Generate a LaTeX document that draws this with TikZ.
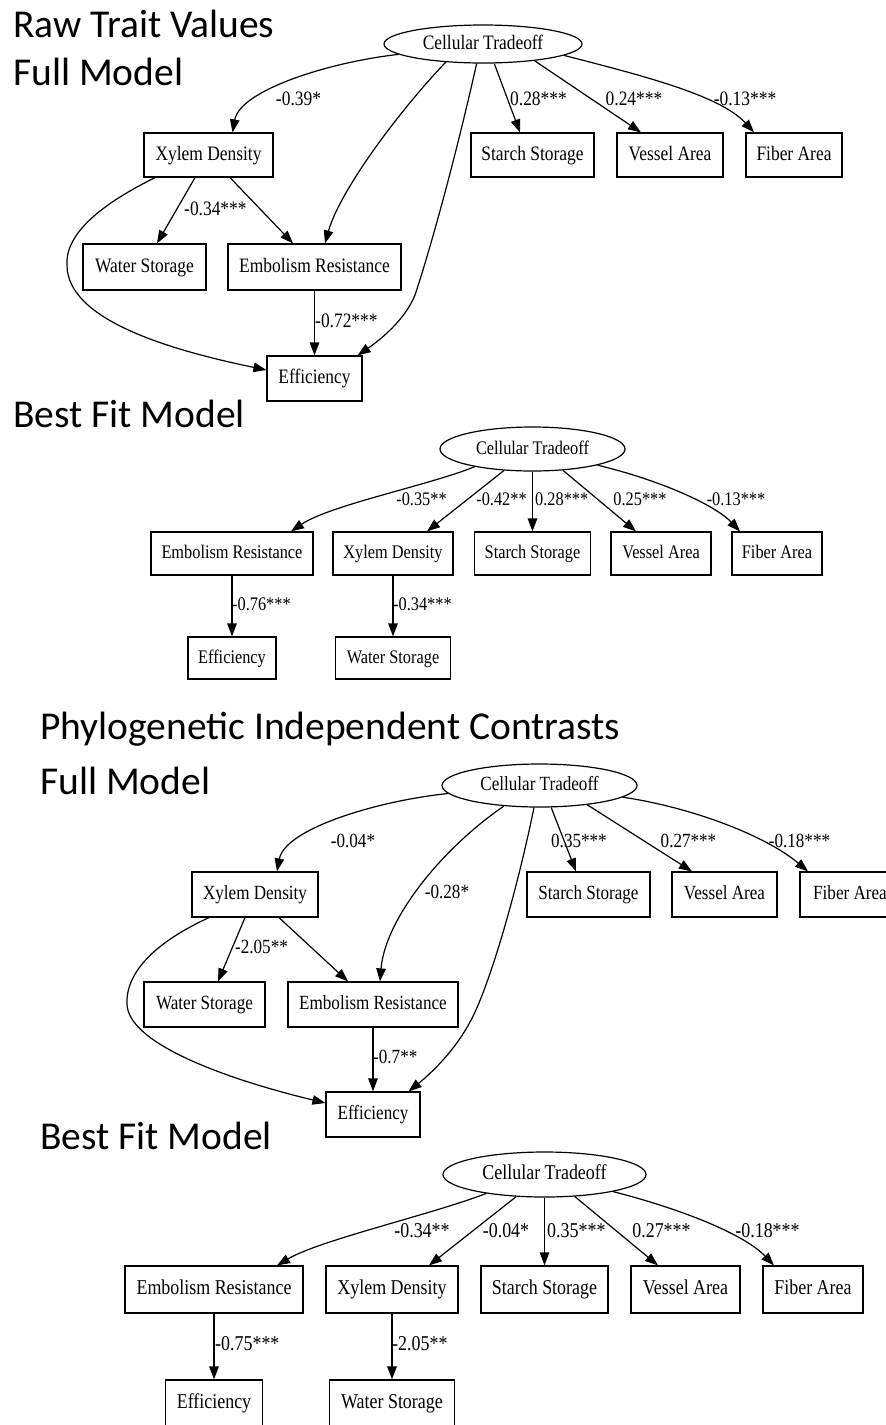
\documentclass[tikz,border=0pt]{standalone}
\usepackage{fontspec}
\setmainfont{Liberation Serif}
\newfontfamily\nodefont[FakeStretch=0.85]{Liberation Serif}
\newfontfamily\titlefont{Carlito}
\usetikzlibrary{shapes.geometric,arrows.meta}
\tikzset{
  box/.style={draw, rectangle, line width=1.2pt, inner sep=0pt, minimum height=44pt},
  ell/.style={draw, ellipse, line width=1.2pt, inner sep=0pt},
  arr/.style={line width=1.2pt, -{Triangle[length=13pt,width=9.5pt]}},
  lab/.style={inner sep=0pt},
  ttl/.style={anchor=base west, inner sep=0pt, font=\titlefont\fontsize{39.5}{42}\selectfont},
  txt/.style={text height=14pt, text depth=4pt},
  pone/.style={every node/.append style={txt, font=\nodefont\fontsize{20.5}{22}\selectfont}},
  ptwo/.style={every node/.append style={txt, font=\nodefont\fontsize{19.2}{21}\selectfont}},
  pthree/.style={every node/.append style={txt, font=\nodefont\fontsize{20.1}{22}\selectfont}},
  pfour/.style={every node/.append style={txt, font=\nodefont\fontsize{21.1}{23}\selectfont}},
}
\begin{document}
\begin{tikzpicture}[x=1pt,y=-1pt]
\fill[white] (0,0) rectangle (886,1425);
\useasboundingbox (0,0) rectangle (886,1425);

% titles
\node[ttl] (t1) at (13,37) {Raw Trait Values};
\node[ttl] (t2) at (13,85) {Full Model};
\node[ttl] (t3) at (13,427) {Best Fit Model};
\node[ttl] (t4) at (40,739) {Phylogenetic Independent Contrasts};
\node[ttl] (t5) at (40,794) {Full Model};
\node[ttl] (t6) at (40,1149) {Best Fit Model};

% ---------- Panel 1 ----------
\begin{scope}[pone]
\node[ell, minimum width=198pt, minimum height=38pt] (ct1) at (483,44) {Cellular Tradeoff};
\node[box, minimum width=129pt] (xd1) at (208.5,155) {Xylem Density};
\node[box, minimum width=123pt] (ss1) at (532.5,155) {Starch Storage};
\node[box, minimum width=106pt] (va1) at (670,155) {Vessel Area};
\node[box, minimum width=96pt] (fa1) at (794,155) {Fiber Area};
\node[box, minimum width=123pt, minimum height=46pt] (ws1) at (144.5,267) {Water Storage};
\node[box, minimum width=173pt, minimum height=46pt] (er1) at (314.5,267) {Embolism Resistance};
\node[box, minimum width=95pt, minimum height=45pt] (ef1) at (314.5,378.5) {Efficiency};

\draw[arr] (ct1.187) .. controls (330,62) and (240,90) .. ([xshift=24pt]xd1.north);
\node[lab] (l1a) at (298.5,100) {-0.39*};
\draw[arr] (ct1.300) -- ([xshift=-12.5pt]ss1.north);
\node[lab, anchor=west] (l1b) at (510,100) {0.28***};
\draw[arr] (ct1.342) -- ([xshift=-29pt]va1.north);
\node[lab] (l1c) at (634,100) {0.24***};
\draw[arr] (ct1.352) .. controls (640,75) and (720,95) .. ([xshift=-40pt]fa1.north);
\node[lab] (l1d) at (745,100) {-0.13***};
\draw[arr] ([xshift=-13.5pt]xd1.south) -- ([xshift=12.5pt]ws1.north);
\node[lab, anchor=west] (l1e) at (184,210) {-0.34***};
\draw[arr] ([xshift=21.5pt]xd1.south) -- ([xshift=-21.5pt]er1.north);
\draw[arr] ([xshift=-53.5pt]xd1.south) .. controls (110,200) and (65,230) .. (67,265) .. controls (67,320) and (170,350) .. ([yshift=8.5pt]ef1.west);
\draw[arr] (er1) -- (ef1);
\node[lab, anchor=west] (l1f) at (315,322) {-0.72***};
\draw[arr] (ct1.206) .. controls (400,110) and (340,190) .. ([xshift=10.5pt]er1.north);
\draw[arr] (ct1.252) .. controls (455,160) and (430,250) .. (415,295) .. controls (405,320) and (380,340) .. ([xshift=-5pt]ef1.north east);
\end{scope}

% ---------- Panel 2 ----------
\begin{scope}[ptwo]
\node[ell, minimum width=185pt, minimum height=44pt] (ct2) at (532.5,449) {Cellular Tradeoff};
\node[box, minimum width=162pt, minimum height=43pt] (er2) at (232,553.5) {Embolism Resistance};
\node[box, minimum width=120pt, minimum height=43pt] (xd2) at (393,553.5) {Xylem Density};
\node[box, minimum width=116pt, minimum height=43pt] (ss2) at (532.5,553.5) {Starch Storage};
\node[box, minimum width=100pt, minimum height=43pt] (va2) at (661,553.5) {Vessel Area};
\node[box, minimum width=90pt, minimum height=43pt] (fa2) at (777,553.5) {Fiber Area};
\node[box, minimum width=88pt, minimum height=42pt] (ef2) at (232,658) {Efficiency};
\node[box, minimum width=115pt, minimum height=42pt] (ws2) at (393,658) {Water Storage};

\draw[arr] (ct2.197) .. controls (430,485) and (330,505) .. ([xshift=59pt]er2.north);
\node[lab] (l2a) at (421.5,500) {-0.35**};
\draw[arr] (ct2.217) -- ([xshift=34pt]xd2.north);
\node[lab] (l2b) at (501.5,500) {-0.42**};
\draw[arr] (ct2) -- (ss2);
\node[lab, anchor=west] (l2c) at (535,500) {0.28***};
\draw[arr] (ct2.325) -- ([xshift=-25pt]va2.north);
\node[lab] (l2d) at (640,500) {0.25***};
\draw[arr] (ct2.346) .. controls (660,480) and (715,505) .. ([xshift=-37pt]fa2.north);
\node[lab] (l2e) at (736,500) {-0.13***};
\draw[arr] (er2) -- (ef2);
\node[lab, anchor=west] (l2f) at (232,605) {-0.76***};
\draw[arr] (xd2) -- (ws2);
\node[lab, anchor=west] (l2g) at (393,605) {-0.34***};
\end{scope}

% ---------- Panel 3 ----------
\begin{scope}[pthree]
\node[ell, minimum width=195pt, minimum height=43pt] (ct3) at (539.5,785.5) {Cellular Tradeoff};
\node[box, minimum width=126pt, minimum height=45pt] (xd3) at (255,894.5) {Xylem Density};
\node[box, minimum width=123pt, minimum height=45pt] (ss3) at (588.5,894.5) {Starch Storage};
\node[box, minimum width=105pt, minimum height=45pt] (va3) at (724.5,894.5) {Vessel Area};
\node[box, minimum width=100pt, minimum height=45pt] (fa3) at (850,894.5) {Fiber Area};
\node[box, minimum width=121pt, minimum height=45pt] (ws3) at (204.5,1004.5) {Water Storage};
\node[box, minimum width=170pt, minimum height=45pt] (er3) at (373,1004.5) {Embolism Resistance};
\node[box, minimum width=94pt, minimum height=45pt] (ef3) at (373,1114.5) {Efficiency};

\draw[arr] (ct3.185) .. controls (376,801) and (285,829) .. ([xshift=22pt]xd3.north);
\node[lab] (l3a) at (353,842) {-0.04*};
\draw[arr] (ct3.298) -- ([xshift=-12.5pt]ss3.north);
\node[lab, anchor=west] (l3b) at (551,842) {0.35***};
\draw[arr] (ct3.338) -- ([xshift=-32.5pt]va3.north);
\node[lab] (l3c) at (688.5,842) {0.27***};
\draw[arr] (ct3.352) .. controls (690,807) and (765,835) .. ([xshift=-42pt]fa3.north);
\node[lab] (l3d) at (799.5,842) {-0.18***};
\draw[arr] (ct3.210) .. controls (440,850) and (385,920) .. ([xshift=7pt]er3.north);
\node[lab] (l3e) at (447,893) {-0.28*};
\draw[arr] (ct3.256) .. controls (515,900) and (490,980) .. (475,1012) .. controls (460,1045) and (435,1070) .. ([xshift=-12pt]ef3.north east);
\draw[arr] ([xshift=-10pt]xd3.south) -- ([xshift=13.5pt]ws3.north);
\node[lab, anchor=west] (l3f) at (235,948) {-2.05**};
\draw[arr] ([xshift=24pt]xd3.south) -- ([xshift=-25pt]er3.north);
\draw[arr] ([xshift=-46pt]xd3.south) .. controls (160,940) and (125,970) .. (127,1005) .. controls (130,1045) and (230,1080) .. ([yshift=11.5pt]ef3.west);
\draw[arr] (er3) -- (ef3);
\node[lab, anchor=west] (l3g) at (373,1058) {-0.7**};
\end{scope}

% ---------- Panel 4 ----------
\begin{scope}[pfour]
\node[ell, minimum width=203pt, minimum height=45pt] (ct4) at (544.5,1174.5) {Cellular Tradeoff};
\node[box, minimum width=178pt, minimum height=47pt] (er4) at (214,1289.5) {Embolism Resistance};
\node[box, minimum width=132pt, minimum height=47pt] (xd4) at (392,1289.5) {Xylem Density};
\node[box, minimum width=127pt, minimum height=47pt] (ss4) at (544.5,1289.5) {Starch Storage};
\node[box, minimum width=109pt, minimum height=47pt] (va4) at (685.5,1289.5) {Vessel Area};
\node[box, minimum width=100pt, minimum height=47pt] (fa4) at (813,1289.5) {Fiber Area};
\node[box, minimum width=97pt, minimum height=47pt] (ef4) at (214,1403.5) {Efficiency};
\node[box, minimum width=125pt, minimum height=47pt] (ws4) at (392,1403.5) {Water Storage};

\draw[arr] (ct4.198) .. controls (430,1215) and (320,1240) .. ([xshift=63pt]er4.north);
\node[lab] (l4a) at (422,1232) {-0.34**};
\draw[arr] (ct4.218) -- ([xshift=37pt]xd4.north);
\node[lab] (l4b) at (506,1232) {-0.04*};
\draw[arr] (ct4) -- (ss4);
\node[lab, anchor=west] (l4c) at (547,1232) {0.35***};
\draw[arr] (ct4.324) -- ([xshift=-27.5pt]va4.north);
\node[lab] (l4d) at (661.5,1232) {0.27***};
\draw[arr] (ct4.346) .. controls (685,1210) and (745,1235) .. ([xshift=-39pt]fa4.north);
\node[lab] (l4e) at (767.5,1232) {-0.18***};
\draw[arr] (er4) -- (ef4);
\node[lab, anchor=west] (l4f) at (215,1345) {-0.75***};
\draw[arr] (xd4) -- (ws4);
\node[lab, anchor=west] (l4g) at (392,1345) {-2.05**};
\end{scope}
\end{tikzpicture}
\end{document}
